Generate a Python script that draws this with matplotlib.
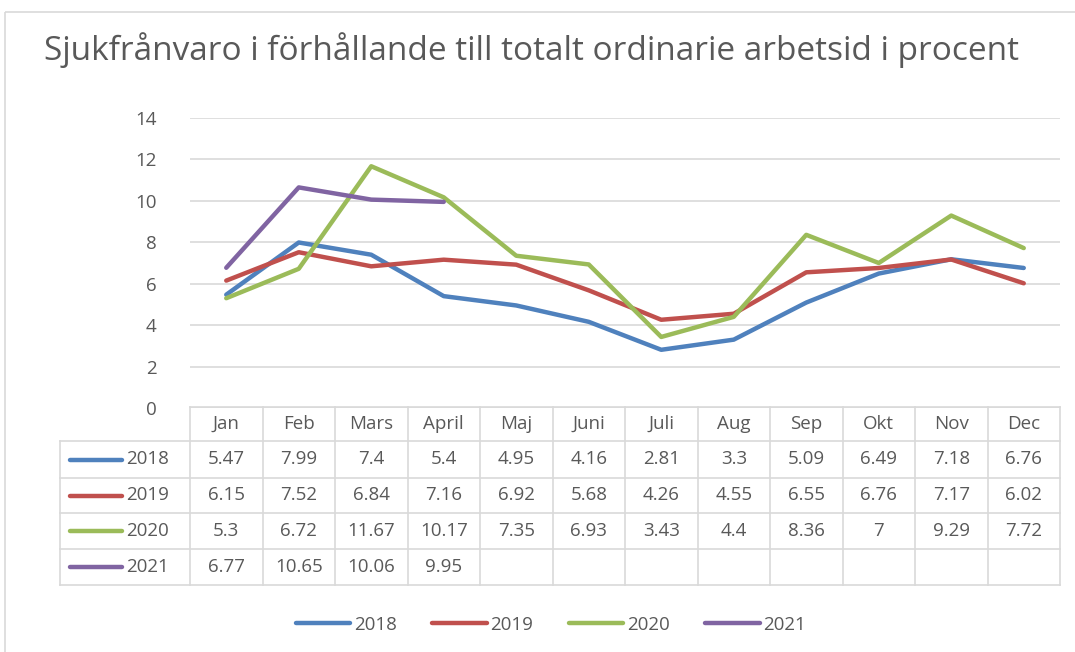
import matplotlib.pyplot as plt
from matplotlib.patches import Rectangle
import numpy as np

months = ["Jan", "Feb", "Mars", "April", "Maj", "Juni", "Juli", "Aug", "Sep", "Okt", "Nov", "Dec"]
years = ["2018", "2019", "2020", "2021"]
v2018 = [5.47, 7.99, 7.4, 5.4, 4.95, 4.16, 2.81, 3.3, 5.09, 6.49, 7.18, 6.76]
v2019 = [6.15, 7.52, 6.84, 7.16, 6.92, 5.68, 4.26, 4.55, 6.55, 6.76, 7.17, 6.02]
v2020 = [5.3, 6.72, 11.67, 10.17, 7.35, 6.93, 3.43, 4.4, 8.36, 7, 9.29, 7.72]
v2021 = [6.77, 10.65, 10.06, 9.95]
series = [v2018, v2019, v2020, v2021]
colors = ["#4F81BD", "#C0504D", "#9BBB59", "#8064A2"]

plt.rcParams['font.family'] = ['Open Sans', 'DejaVu Sans']
txt = "#595959"
grid = "#D9D9D9"

W, H = 1075, 652
fig = plt.figure(figsize=(W / 100, H / 100), dpi=100)

# pixel-space overlay for border + table
ov = fig.add_axes([0, 0, 1, 1])
ov.set_xlim(0, W)
ov.set_ylim(H, 0)
ov.axis('off')
ov.add_patch(Rectangle((5, 12), W + 10, H, fill=False, ec=grid, lw=1.2))

# plot area
x0, x1, ytop, ybot = 190, 1060, 118, 408
ax = fig.add_axes([x0 / W, 1 - ybot / H, (x1 - x0) / W, (ybot - ytop) / H])
ax.set_xlim(-0.5, len(months) - 0.5)
ax.set_ylim(0, 14)
ax.set_yticks(range(0, 15, 2))
ax.set_xticks([])
for s in ax.spines.values():
    s.set_visible(False)
ax.yaxis.grid(True, color=grid, lw=1.2)
ax.set_axisbelow(True)
ax.tick_params(axis='y', length=0, pad=24, labelsize=13.5, labelcolor=txt)
ax.patch.set_alpha(0)

handles = []
for yr, vals, c in zip(years, series, colors):
    h, = ax.plot(np.arange(len(vals)), vals, color=c, lw=3.2,
                 solid_capstyle='round', solid_joinstyle='round', label=yr)
    handles.append(h)

# data table
colw = (x1 - x0) / len(months)
row_edges = [407, 441, 478, 513, 549, 585]
tl = 60
for i in range(len(months) + 1):
    xx = x0 + i * colw
    ov.plot([xx, xx], [row_edges[0], row_edges[-1]], color=grid, lw=1.2)
ov.plot([tl, tl], [row_edges[1], row_edges[-1]], color=grid, lw=1.2)
ov.plot([x0, x1], [row_edges[0], row_edges[0]], color=grid, lw=1.2)
for yy in row_edges[1:]:
    ov.plot([tl, x1], [yy, yy], color=grid, lw=1.2)

for i, m in enumerate(months):
    ov.text(x0 + (i + 0.5) * colw, (row_edges[0] + row_edges[1]) / 2, m,
            ha='center', va='center', fontsize=13.5, color=txt)
for r, (yr, vals, c) in enumerate(zip(years, series, colors)):
    yc = (row_edges[r + 1] + row_edges[r + 2]) / 2
    ov.plot([70, 122], [yc, yc], color=c, lw=3.2, solid_capstyle='round')
    ov.text(126, yc, yr, ha='left', va='center', fontsize=13.5, color=txt)
    for i, v in enumerate(vals):
        ov.text(x0 + (i + 0.5) * colw, yc, f"{v:g}", ha='center', va='center',
                fontsize=13.5, color=txt)

fig.text(531 / W, 1 - 50 / H, "Sjukfrånvaro i förhållande till totalt ordinarie arbetsid i procent",
         ha='center', va='center', fontsize=24, color=txt)

leg = fig.legend(handles=handles, labels=years, loc='center', ncol=4,
                 bbox_to_anchor=(551 / W, 1 - 625 / H), frameon=False, fontsize=13.5,
                 handlelength=2.9, handletextpad=0.2, columnspacing=1.9)
for t in leg.get_texts():
    t.set_color(txt)

fig.savefig("out.png", dpi=100)
